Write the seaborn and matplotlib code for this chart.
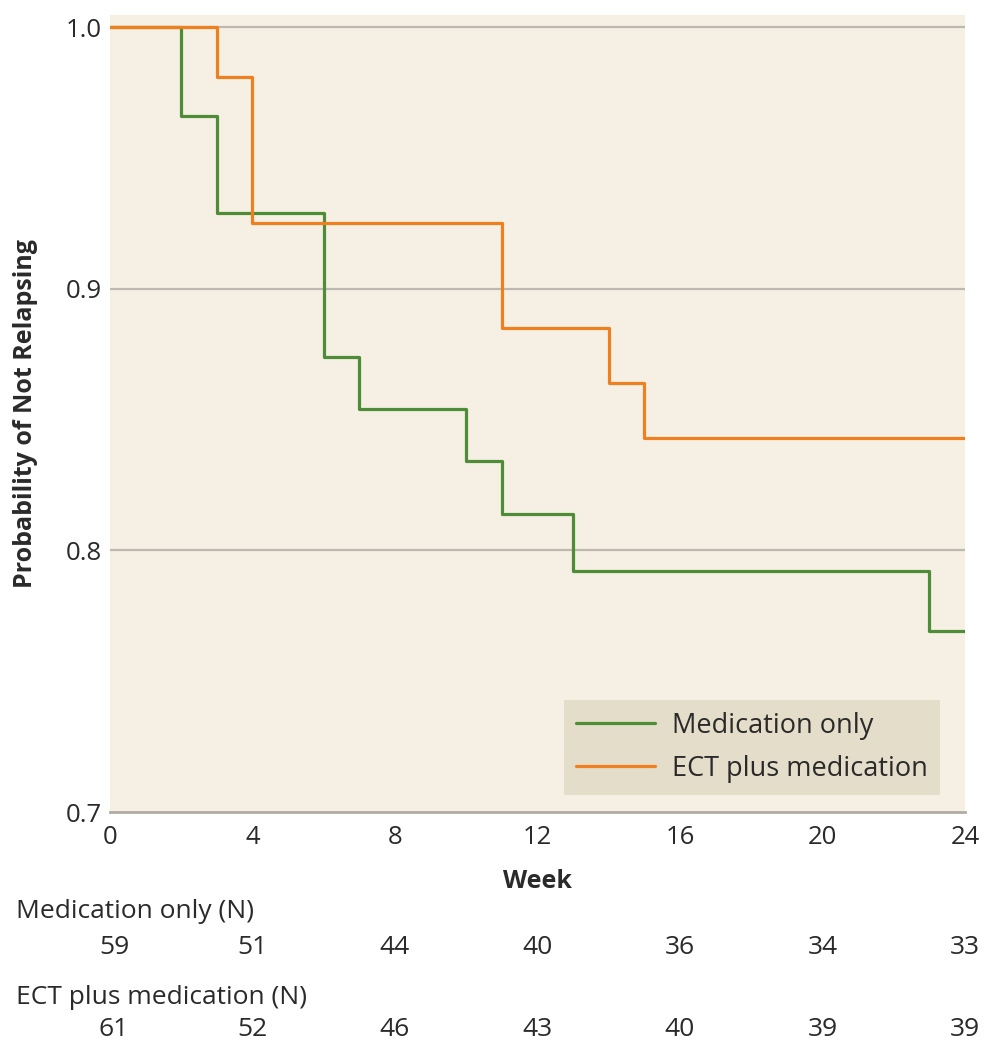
import matplotlib
matplotlib.use("Agg")
import matplotlib.pyplot as plt
import seaborn as sns
import pandas as pd

# Kaplan-Meier step data (week, survival probability)
med_weeks = [0, 2, 3, 6, 7, 10, 11, 13, 23, 24]
med_surv = [1.0, 0.966, 0.929, 0.874, 0.854, 0.834, 0.814, 0.792, 0.769, 0.769]
ect_weeks = [0, 3, 4, 11, 14, 15, 24]
ect_surv = [1.0, 0.981, 0.925, 0.885, 0.864, 0.843, 0.843]

series_names = ["Medication only", "ECT plus medication"]
series_colors = ["#4E8C37", "#F0801F"]

risk_weeks = [0, 4, 8, 12, 16, 20, 24]
risk_med = [59, 51, 44, 40, 36, 34, 33]
risk_ect = [61, 52, 46, 43, 40, 39, 39]
risk_labels = ["Medication only (N)", "ECT plus medication (N)"]

xticks = [0, 4, 8, 12, 16, 20, 24]
yticks = [0.7, 0.8, 0.9, 1.0]

sns.set_theme(style="white")
plt.rcParams["font.family"] = ["Open Sans", "DejaVu Sans"]

df = pd.concat([
    pd.DataFrame({"week": med_weeks, "surv": med_surv, "group": series_names[0]}),
    pd.DataFrame({"week": ect_weeks, "surv": ect_surv, "group": series_names[1]}),
])

fig = plt.figure(figsize=(9.87, 10.5), dpi=100)
ax = fig.add_axes([110 / 987, 1 - 812 / 1050, (965 - 110) / 987, (812 - 15) / 1050])
ax.set_facecolor("#F6EFE4")

for y in [0.8, 0.9, 1.0]:
    ax.axhline(y, color="#BDB9B1", lw=1.6, zorder=1)

for name, col in zip(series_names, series_colors):
    sub = df[df["group"] == name]
    sns.lineplot(data=sub, x="week", y="surv", ax=ax, color=col, lw=2.3,
                 drawstyle="steps-post", estimator=None, sort=False,
                 label=name, zorder=3)

TXT = "#2A2A2A"
ax.set_xlim(0, 24)
ax.set_ylim(0.7, 1.0046)
ax.set_xticks(xticks)
ax.set_xticklabels([str(t) for t in xticks])
ax.set_yticks(yticks)
ax.set_yticklabels([f"{t:.1f}" for t in yticks])
ax.tick_params(axis="both", length=0, labelsize=18.5, colors=TXT)
ax.tick_params(axis="x", pad=9)
ax.tick_params(axis="y", pad=6)
for s in ["top", "right", "left"]:
    ax.spines[s].set_visible(False)
ax.spines["bottom"].set_color("#B0ACA4")
ax.spines["bottom"].set_linewidth(2)

ax.set_xlabel("Week", fontsize=18, fontweight="bold", color=TXT, labelpad=14)
ax.set_ylabel("Probability of Not Relapsing", fontsize=18, fontweight="bold",
              color=TXT, labelpad=20)

leg = ax.legend(loc="lower right", bbox_to_anchor=(0.9708, 0.0213), frameon=True,
                fancybox=False, fontsize=19.5, handlelength=2.9, handletextpad=0.63,
                borderpad=0.45, labelspacing=0.55, borderaxespad=0)
leg.get_frame().set_facecolor("#E3DDC9")
leg.get_frame().set_edgecolor("none")
leg.get_frame().set_alpha(1)
for t in leg.get_texts():
    t.set_color(TXT)
for h in leg.get_lines():
    h.set_linewidth(2.3)

# Number-at-risk table
def to_fig_x(w):
    return (110 + w / 24 * (965 - 110)) / 987

FS = 19
fig.text(16 / 987, 1 - 912 / 1050, risk_labels[0], fontsize=FS, color=TXT,
         ha="left", va="center")
for w, n in zip(risk_weeks, risk_med):
    fig.text(to_fig_x(w) + (4 / 987 if w == 0 else 0), 1 - 947 / 1050, str(n),
             fontsize=FS, color=TXT, ha="center", va="center")
fig.text(16 / 987, 1 - 997 / 1050, risk_labels[1], fontsize=FS, color=TXT,
         ha="left", va="center")
for w, n in zip(risk_weeks, risk_ect):
    fig.text(to_fig_x(w) + (4 / 987 if w == 0 else 0), 1 - 1029 / 1050, str(n),
             fontsize=FS, color=TXT, ha="center", va="center")

fig.savefig("out.png", dpi=100, facecolor="white")
